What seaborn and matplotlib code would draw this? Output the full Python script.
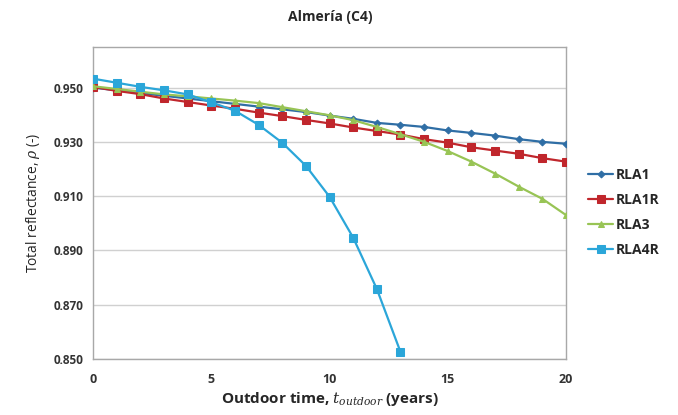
import numpy as np
import pandas as pd
import matplotlib
matplotlib.use('Agg')
import matplotlib.pyplot as plt
import seaborn as sns

# values
years = list(range(0, 21))
rla1 = [0.9500, 0.9490, 0.9480, 0.9470, 0.9460, 0.9450, 0.9440, 0.9430, 0.9420, 0.9410,
        0.9397, 0.9385, 0.9370, 0.9363, 0.9355, 0.9342, 0.9333, 0.9323, 0.9310, 0.9300, 0.9293]
rla1r = [0.9503, 0.9488, 0.9476, 0.9460, 0.9447, 0.9434, 0.9422, 0.9408, 0.9395, 0.9381,
         0.9368, 0.9353, 0.9340, 0.9327, 0.9310, 0.9297, 0.9280, 0.9268, 0.9256, 0.9240, 0.9227]
rla3 = [0.9505, 0.9495, 0.9485, 0.9475, 0.9468, 0.9460, 0.9452, 0.9443, 0.9428, 0.9413,
        0.9398, 0.9380, 0.9355, 0.9328, 0.9300, 0.9266, 0.9227, 0.9183, 0.9135, 0.9090, 0.9030]
rla4r_years = list(range(0, 14))
rla4r = [0.9533, 0.9518, 0.9503, 0.9490, 0.9475, 0.9446, 0.9415, 0.9363, 0.9297, 0.9212,
         0.9098, 0.8947, 0.8758, 0.8526]

y_ticks = [0.850, 0.870, 0.890, 0.910, 0.930, 0.950]
x_ticks = [0, 5, 10, 15, 20]

sns.set_theme(style='white')
plt.rcParams['font.family'] = ['Open Sans', 'DejaVu Sans']
plt.rcParams['mathtext.fontset'] = 'dejavuserif'

fig = plt.figure(figsize=(6.78, 4.15), dpi=100)
ax = fig.add_axes([0.137, 0.135, 0.698, 0.752])

series = [
    ('RLA1', years, rla1, '#2f6ea5', 'D', 3.5),
    ('RLA1R', years, rla1r, '#c0262c', 's', 5.5),
    ('RLA3', years, rla3, '#98c455', '^', 4.5),
    ('RLA4R', rla4r_years, rla4r, '#2ba6d9', 's', 5.5),
]
for name, xs, ys, col, mk, ms in series:
    df = pd.DataFrame({'t': xs, 'rho': ys})
    sns.lineplot(data=df, x='t', y='rho', ax=ax, color=col, marker=mk, markersize=ms,
                 markeredgecolor=col, linewidth=1.6, label=name, zorder=3)

ax.set_xlim(0, 20)
ax.set_ylim(0.850, 0.965)
ax.set_xticks(x_ticks)
ax.set_yticks(y_ticks)
ax.set_yticklabels([f'{v:.3f}' for v in y_ticks])
ax.tick_params(axis='both', length=0, labelsize=8.5, colors='#333333', pad=7)
ax.tick_params(axis='x', pad=10, labelsize=9)
for lab in ax.get_xticklabels() + ax.get_yticklabels():
    lab.set_fontweight('bold')
ax.grid(True, axis='y', color='#d0d0d0', linewidth=1)
for s in ax.spines.values():
    s.set_color('#a8a8a8')
    s.set_linewidth(1)

ax.set_xlabel(r'Outdoor time, $t_{outdoor}$ (years)', fontsize=11, fontweight='bold', labelpad=3)
ax.set_ylabel(r'Total reflectance, $\rho$ (-)', fontsize=10, labelpad=8)
fig.text(0.487, 0.958, 'Almería (C4)', ha='center', va='center', fontsize=10, fontweight='bold')

leg = ax.legend(loc='center left', bbox_to_anchor=(1.02, 0.47), frameon=False,
                fontsize=10, handlelength=1.8, labelspacing=0.8, handletextpad=0.2)
for t in leg.get_texts():
    t.set_fontweight('bold')

fig.savefig('out.png', dpi=100)
